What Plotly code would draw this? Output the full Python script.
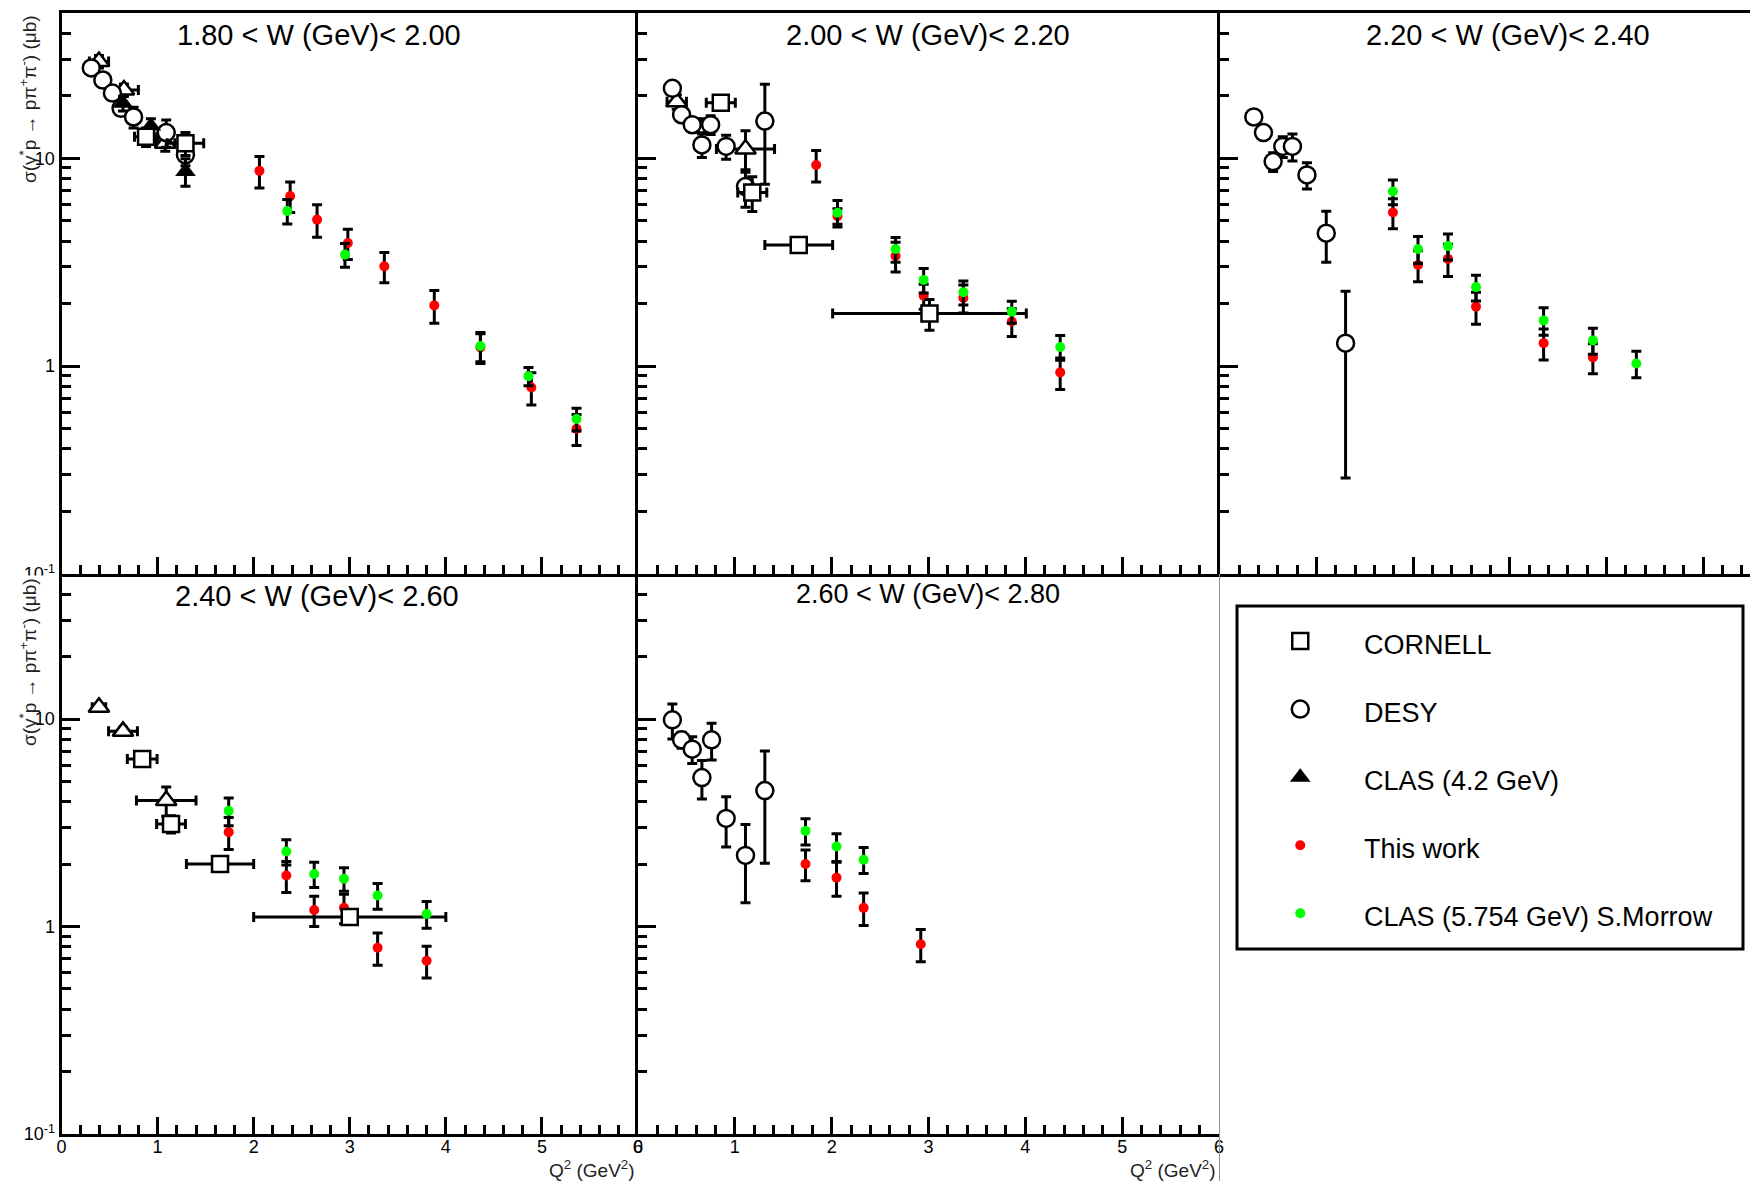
import math
import plotly.graph_objects as go

W, H = 1750, 1181
FONT = "Arial, 'Liberation Sans', Helvetica, sans-serif"

# ---------------------------------------------------------------- labels
W_BIN_TITLES = [
    "1.80 < W (GeV)< 2.00",
    "2.00 < W (GeV)< 2.20",
    "2.20 < W (GeV)< 2.40",
    "2.40 < W (GeV)< 2.60",
    "2.60 < W (GeV)< 2.80",
]
SERIES_NAMES = ["CORNELL", "DESY", "CLAS (4.2 GeV)", "This work", "CLAS (5.754 GeV) S.Morrow"]
Y_TITLE = "σ(γ<sup>*</sup>p → pπ<sup>+</sup>π<sup>-</sup>) (μb)"
X_TITLE = "Q<sup>2</sup> (GeV<sup>2</sup>)"
Y_TICK_VALUES = [0.1, 1, 10]
Y_TICK_TEXT = ["10<sup>-1</sup>", "1", "10"]
Y_MINOR_VALUES = [0.2, 0.3, 0.4, 0.5, 0.6, 0.7, 0.8, 0.9,
                  2, 3, 4, 5, 6, 7, 8, 9, 20, 30, 40]
X_TICK_VALUES = [0, 1, 2, 3, 4, 5, 6]
X_TICK_TEXT = ["0", "1", "2", "3", "4", "5", "6"]
X_MINOR_VALUES = [round(0.2 * k, 1) for k in range(1, 30) if k % 5]

# ---------------------------------------------------------------- W 1.80 - 2.00
w1_cornell_q2 = [0.88, 1.29]
w1_cornell_sig = [12.7, 11.8]
w1_cornell_dq2 = [0.12, 0.19]
w1_cornell_dsig = [1.3, 1.5]

w1_desy_q2 = [0.31, 0.43, 0.53, 0.62, 0.75, 1.09, 1.29]
w1_desy_sig = [27.2, 23.8, 20.6, 17.4, 15.8, 13.3, 10.4]
w1_desy_dsig = [1.2, 1.0, 1.0, 1.2, 1.8, 2.0, 1.2]

w1_opentri_q2 = [0.39, 0.65, 1.08]
w1_opentri_sig = [29.2, 21.3, 11.8]
w1_opentri_dq2 = [0.10, 0.15, 0.10]
w1_opentri_dsig = [2.0, 1.5, 1.0]

w1_clas42_q2 = [0.64, 0.93, 1.29]
w1_clas42_sig = [18.4, 14.3, 8.64]
w1_clas42_dsig = [1.5, 1.2, 1.3]

w1_this_q2 = [2.06, 2.38, 2.66, 2.98, 3.36, 3.88, 4.36, 4.89, 5.36]
w1_this_sig = [8.70, 6.58, 5.07, 3.91, 3.02, 1.96, 1.23, 0.79, 0.50]
w1_this_dsig = [1.5, 1.1, 0.9, 0.65, 0.5, 0.35, 0.2, 0.14, 0.085]

w1_morrow_q2 = [2.35, 2.95, 4.36, 4.86, 5.36]
w1_morrow_sig = [5.58, 3.44, 1.25, 0.895, 0.557]
w1_morrow_dsig = [0.75, 0.45, 0.2, 0.09, 0.07]

# ---------------------------------------------------------------- W 2.00 - 2.20
w2_cornell_q2 = [0.855, 1.18, 1.66, 3.01]
w2_cornell_sig = [18.5, 6.84, 3.83, 1.79]
w2_cornell_dq2 = [0.15, 0.15, 0.35, 1.0]
w2_cornell_dsig = [1.0, 1.3, 0.1, 0.3]

w2_desy_q2 = [0.355, 0.45, 0.56, 0.66, 0.75, 0.91, 1.11, 1.31]
w2_desy_sig = [21.7, 16.2, 14.5, 11.6, 14.5, 11.4, 7.31, 15.1]
w2_desy_dsig = [0.0, 0.0, 0.0, 1.5, 1.5, 1.5, 1.5, 7.6]

w2_opentri_q2 = [0.40, 0.65, 1.11]
w2_opentri_sig = [18.7, 14.0, 11.07]
w2_opentri_dq2 = [0.10, 0.10, 0.30]
w2_opentri_dsig = [1.5, 1.5, 2.5]

w2_this_q2 = [1.84, 2.06, 2.66, 2.95, 3.36, 3.86, 4.36]
w2_this_sig = [9.29, 5.27, 3.39, 2.18, 2.13, 1.64, 0.933]
w2_this_dsig = [1.6, 0.45, 0.55, 0.3, 0.33, 0.25, 0.16]

w2_morrow_q2 = [2.06, 2.66, 2.95, 3.36, 3.86, 4.36]
w2_morrow_sig = [5.47, 3.66, 2.60, 2.27, 1.83, 1.236]
w2_morrow_dsig = [0.8, 0.5, 0.35, 0.3, 0.22, 0.17]

# ---------------------------------------------------------------- W 2.20 - 2.40
w3_desy_q2 = [0.35, 0.45, 0.55, 0.65, 0.75, 0.90, 1.10, 1.30]
w3_desy_sig = [15.8, 13.3, 9.64, 11.4, 11.4, 8.32, 4.36, 1.29]
w3_desy_dsig = [0.0, 0.0, 1.0, 1.3, 1.7, 1.2, 1.2, 1.0]

w3_this_q2 = [1.79, 2.05, 2.36, 2.65, 3.35, 3.86]
w3_this_sig = [5.48, 3.07, 3.28, 1.93, 1.29, 1.10]
w3_this_dsig = [0.9, 0.52, 0.58, 0.34, 0.22, 0.18]

w3_morrow_q2 = [1.79, 2.05, 2.36, 2.65, 3.35, 3.86, 4.31]
w3_morrow_sig = [6.92, 3.66, 3.78, 2.40, 1.66, 1.33, 1.03]
w3_morrow_dsig = [0.95, 0.54, 0.54, 0.34, 0.25, 0.19, 0.15]

# ---------------------------------------------------------------- W 2.40 - 2.60
w4_cornell_q2 = [0.84, 1.14, 1.65, 3.0]
w4_cornell_sig = [6.41, 3.12, 2.0, 1.11]
w4_cornell_dq2 = [0.155, 0.15, 0.35, 1.0]
w4_cornell_dsig = [0.3, 0.3, 0.1, 0.08]

w4_opentri_q2 = [0.39, 0.64, 1.09]
w4_opentri_sig = [11.4, 8.72, 4.05]
w4_opentri_dq2 = [0.07, 0.15, 0.31]
w4_opentri_dsig = [0.3, 0.4, 0.65]

w4_this_q2 = [1.74, 2.34, 2.63, 2.94, 3.29, 3.80]
w4_this_sig = [2.85, 1.76, 1.20, 1.23, 0.79, 0.684]
w4_this_dsig = [0.5, 0.3, 0.2, 0.2, 0.14, 0.12]

w4_morrow_q2 = [1.74, 2.34, 2.63, 2.94, 3.29, 3.80]
w4_morrow_sig = [3.61, 2.30, 1.79, 1.70, 1.41, 1.15]
w4_morrow_dsig = [0.55, 0.32, 0.25, 0.22, 0.2, 0.17]

# ---------------------------------------------------------------- W 2.60 - 2.80
w5_desy_q2 = [0.355, 0.45, 0.56, 0.66, 0.76, 0.91, 1.11, 1.31]
w5_desy_sig = [9.91, 7.94, 7.16, 5.22, 7.94, 3.32, 2.20, 4.52]
w5_desy_dsig = [1.9, 0.7, 1.05, 1.1, 1.6, 0.9, 0.9, 2.5]

w5_this_q2 = [1.73, 2.05, 2.33, 2.92]
w5_this_sig = [2.0, 1.72, 1.23, 0.822]
w5_this_dsig = [0.34, 0.32, 0.22, 0.145]

w5_morrow_q2 = [1.73, 2.05, 2.33]
w5_morrow_sig = [2.89, 2.43, 2.10]
w5_morrow_dsig = [0.42, 0.37, 0.3]

# ---------------------------------------------------------------- styles
STYLE = {
    "cornell": dict(symbol="square", size=16, color="white", line=dict(color="black", width=2.5)),
    "desy": dict(symbol="circle", size=17, color="white", line=dict(color="black", width=2.5)),
    "opentri": dict(symbol="triangle-up", size=18, color="white", line=dict(color="black", width=2.5)),
    "clas42": dict(symbol="triangle-up", size=18, color="black", line=dict(width=0)),
    "this": dict(symbol="circle", size=10, color="#ff0000", line=dict(width=0)),
    "morrow": dict(symbol="circle", size=10, color="#00ff00", line=dict(width=0)),
}


def px_x(x):
    return x / W


def px_y(y):
    return 1 - y / H


# pad geometry in pixels: (left, right, top, bottom, q2 max)
PADS = [
    (61.5, 638, 13, 574, 6),
    (638, 1219, 13, 574, 6),
    (1220, 1750, 13, 574, 530 / 96.6),
    (61.5, 638, 574, 1134, 6),
    (638, 1219, 574, 1134, 6),
]

fig = go.Figure()


def add_series(pad, key, q2, sig, dsig, dq2=None):
    ax = "" if pad == 1 else str(pad)
    err_y = dict(type="data", array=dsig, visible=True, color="black", thickness=3, width=5)
    err_x = None
    if dq2 is not None:
        err_x = dict(type="data", array=dq2, visible=True, color="black", thickness=3, width=5)
    fig.add_trace(go.Scatter(
        x=q2, y=sig, mode="markers", marker=STYLE[key],
        error_y=err_y, error_x=err_x, showlegend=False, hoverinfo="x+y",
        xaxis="x" + ax, yaxis="y" + ax,
    ))


# panel 1
add_series(1, "opentri", w1_opentri_q2, w1_opentri_sig, w1_opentri_dsig, w1_opentri_dq2)
add_series(1, "desy", w1_desy_q2, w1_desy_sig, w1_desy_dsig)
add_series(1, "clas42", w1_clas42_q2, w1_clas42_sig, w1_clas42_dsig)
add_series(1, "cornell", w1_cornell_q2, w1_cornell_sig, w1_cornell_dsig, w1_cornell_dq2)
add_series(1, "this", w1_this_q2, w1_this_sig, w1_this_dsig)
add_series(1, "morrow", w1_morrow_q2, w1_morrow_sig, w1_morrow_dsig)
# panel 2
add_series(2, "opentri", w2_opentri_q2, w2_opentri_sig, w2_opentri_dsig, w2_opentri_dq2)
add_series(2, "desy", w2_desy_q2, w2_desy_sig, w2_desy_dsig)
add_series(2, "this", w2_this_q2, w2_this_sig, w2_this_dsig)
add_series(2, "cornell", w2_cornell_q2, w2_cornell_sig, w2_cornell_dsig, w2_cornell_dq2)
add_series(2, "morrow", w2_morrow_q2, w2_morrow_sig, w2_morrow_dsig)
# panel 3
add_series(3, "desy", w3_desy_q2, w3_desy_sig, w3_desy_dsig)
add_series(3, "this", w3_this_q2, w3_this_sig, w3_this_dsig)
add_series(3, "morrow", w3_morrow_q2, w3_morrow_sig, w3_morrow_dsig)
# panel 4
add_series(4, "opentri", w4_opentri_q2, w4_opentri_sig, w4_opentri_dsig, w4_opentri_dq2)
add_series(4, "this", w4_this_q2, w4_this_sig, w4_this_dsig)
add_series(4, "cornell", w4_cornell_q2, w4_cornell_sig, w4_cornell_dsig, w4_cornell_dq2)
add_series(4, "morrow", w4_morrow_q2, w4_morrow_sig, w4_morrow_dsig)
# panel 5
add_series(5, "desy", w5_desy_q2, w5_desy_sig, w5_desy_dsig)
add_series(5, "this", w5_this_q2, w5_this_sig, w5_this_dsig)
add_series(5, "morrow", w5_morrow_q2, w5_morrow_sig, w5_morrow_dsig)

layout = dict(
    width=W, height=H,
    margin=dict(l=0, r=0, t=0, b=0, pad=0, autoexpand=False),
    paper_bgcolor="white", plot_bgcolor="white",
    font=dict(family=FONT, color="black"),
    showlegend=False,
)

for i, (l, r, t, b, xmax) in enumerate(PADS, start=1):
    ax = "" if i == 1 else str(i)
    bottom_row = i >= 4
    # frame edges shared between neighbouring pads are drawn only once
    layout["xaxis" + ax] = dict(
        domain=[px_x(l), px_x(r)], range=[0, xmax], anchor="y" + ax,
        showline=True, linecolor="black", linewidth=3, mirror=not bottom_row,
        ticks="inside", tickmode="array",
        tickvals=[v for v in X_TICK_VALUES if v <= xmax],
        ticktext=[t_ for v, t_ in zip(X_TICK_VALUES, X_TICK_TEXT) if v <= xmax],
        ticklen=17, tickwidth=2.5, tickcolor="black",
        minor=dict(ticks="inside", tickmode="array",
                   tickvals=[v for v in X_MINOR_VALUES if v < xmax],
                   ticklen=9, tickwidth=2.5, tickcolor="black", showgrid=False),
        showgrid=False, zeroline=False, automargin=False,
        showticklabels=bottom_row, tickfont=dict(size=18, color="black"),
        ticklabelstandoff=-6,
        fixedrange=True,
    )
    layout["yaxis" + ax] = dict(
        domain=[px_y(b), px_y(t)], type="log", range=[-1, math.log10(50)], anchor="x" + ax,
        showline=True, linecolor="black", linewidth=3, mirror=False,
        ticks="inside", tickmode="array", tickvals=Y_TICK_VALUES, ticktext=Y_TICK_TEXT,
        ticklen=18, tickwidth=2.5, tickcolor="black",
        minor=dict(ticks="inside", tickmode="array", tickvals=Y_MINOR_VALUES,
                   ticklen=9, tickwidth=2.5, tickcolor="black", showgrid=False),
        showgrid=False, zeroline=False, automargin=False,
        showticklabels=(i in (1, 4)), tickfont=dict(size=18, color="black"),
        fixedrange=True,
    )

# legend box as its own hidden axes
LEG_L, LEG_R, LEG_T, LEG_B = 1237, 1743, 606, 949
layout["xaxis6"] = dict(domain=[px_x(LEG_L), px_x(LEG_R)], range=[0, 1], visible=False,
                        anchor="y6", fixedrange=True)
layout["yaxis6"] = dict(domain=[px_y(LEG_B), px_y(LEG_T)], range=[1, 0], visible=False,
                        anchor="x6", fixedrange=True)

legend_keys = ["cornell", "desy", "clas42", "this", "morrow"]
legend_rows = [0.114 + 0.1985 * k for k in range(len(legend_keys))]
for key, yrow in zip(legend_keys, legend_rows):
    fig.add_trace(go.Scatter(x=[0.125], y=[yrow - 0.012], mode="markers", marker=STYLE[key],
                             showlegend=False, hoverinfo="skip", xaxis="x6", yaxis="y6"))

fig.update_layout(**layout)

shapes = [
    dict(type="rect", xref="paper", yref="paper",
         x0=px_x(LEG_L), x1=px_x(LEG_R), y0=px_y(LEG_B), y1=px_y(LEG_T),
         line=dict(color="black", width=3), fillcolor="rgba(0,0,0,0)"),
    # thin outline on the right of the last pad of the lower row
    dict(type="line", xref="paper", yref="paper",
         x0=px_x(1219.5), x1=px_x(1219.5), y0=px_y(574), y1=0,
         line=dict(color="#909090", width=1)),
    # lower pads are painted over the bottom label of the first pad
    dict(type="rect", xref="paper", yref="paper", layer="above",
         x0=0, x1=px_x(57), y0=px_y(600), y1=px_y(575.5),
         line=dict(width=0), fillcolor="white"),
]

annotations = []
title_pos = [(319, 35, 29), (928, 35, 29), (1508, 35, 29), (317, 596, 29), (928, 594, 27)]
for text, (cx, cy, fs) in zip(W_BIN_TITLES, title_pos):
    annotations.append(dict(text=text, x=px_x(cx), y=px_y(cy), xref="paper", yref="paper",
                            showarrow=False, xanchor="center", yanchor="middle",
                            font=dict(size=fs, color="black")))
for top in (13, 576):
    annotations.append(dict(text=Y_TITLE, x=px_x(28), y=px_y(top), xref="paper", yref="paper",
                            showarrow=False, textangle=-90, xanchor="center", yanchor="top",
                            font=dict(size=19, color="#222222")))
for right in (637, 1218):
    annotations.append(dict(text=X_TITLE, x=px_x(right), y=px_y(1169), xref="paper", yref="paper",
                            showarrow=False, xanchor="right", yanchor="middle",
                            font=dict(size=19, color="#222222")))
for name, yrow in zip(SERIES_NAMES, legend_rows):
    annotations.append(dict(text=name, x=px_x(1362), y=px_y(LEG_T + yrow * (LEG_B - LEG_T)),
                            xref="paper", yref="paper", showarrow=False,
                            xanchor="left", yanchor="middle", font=dict(size=27, color="black")))

fig.update_layout(shapes=shapes, annotations=annotations)
fig.write_html("out.html")
